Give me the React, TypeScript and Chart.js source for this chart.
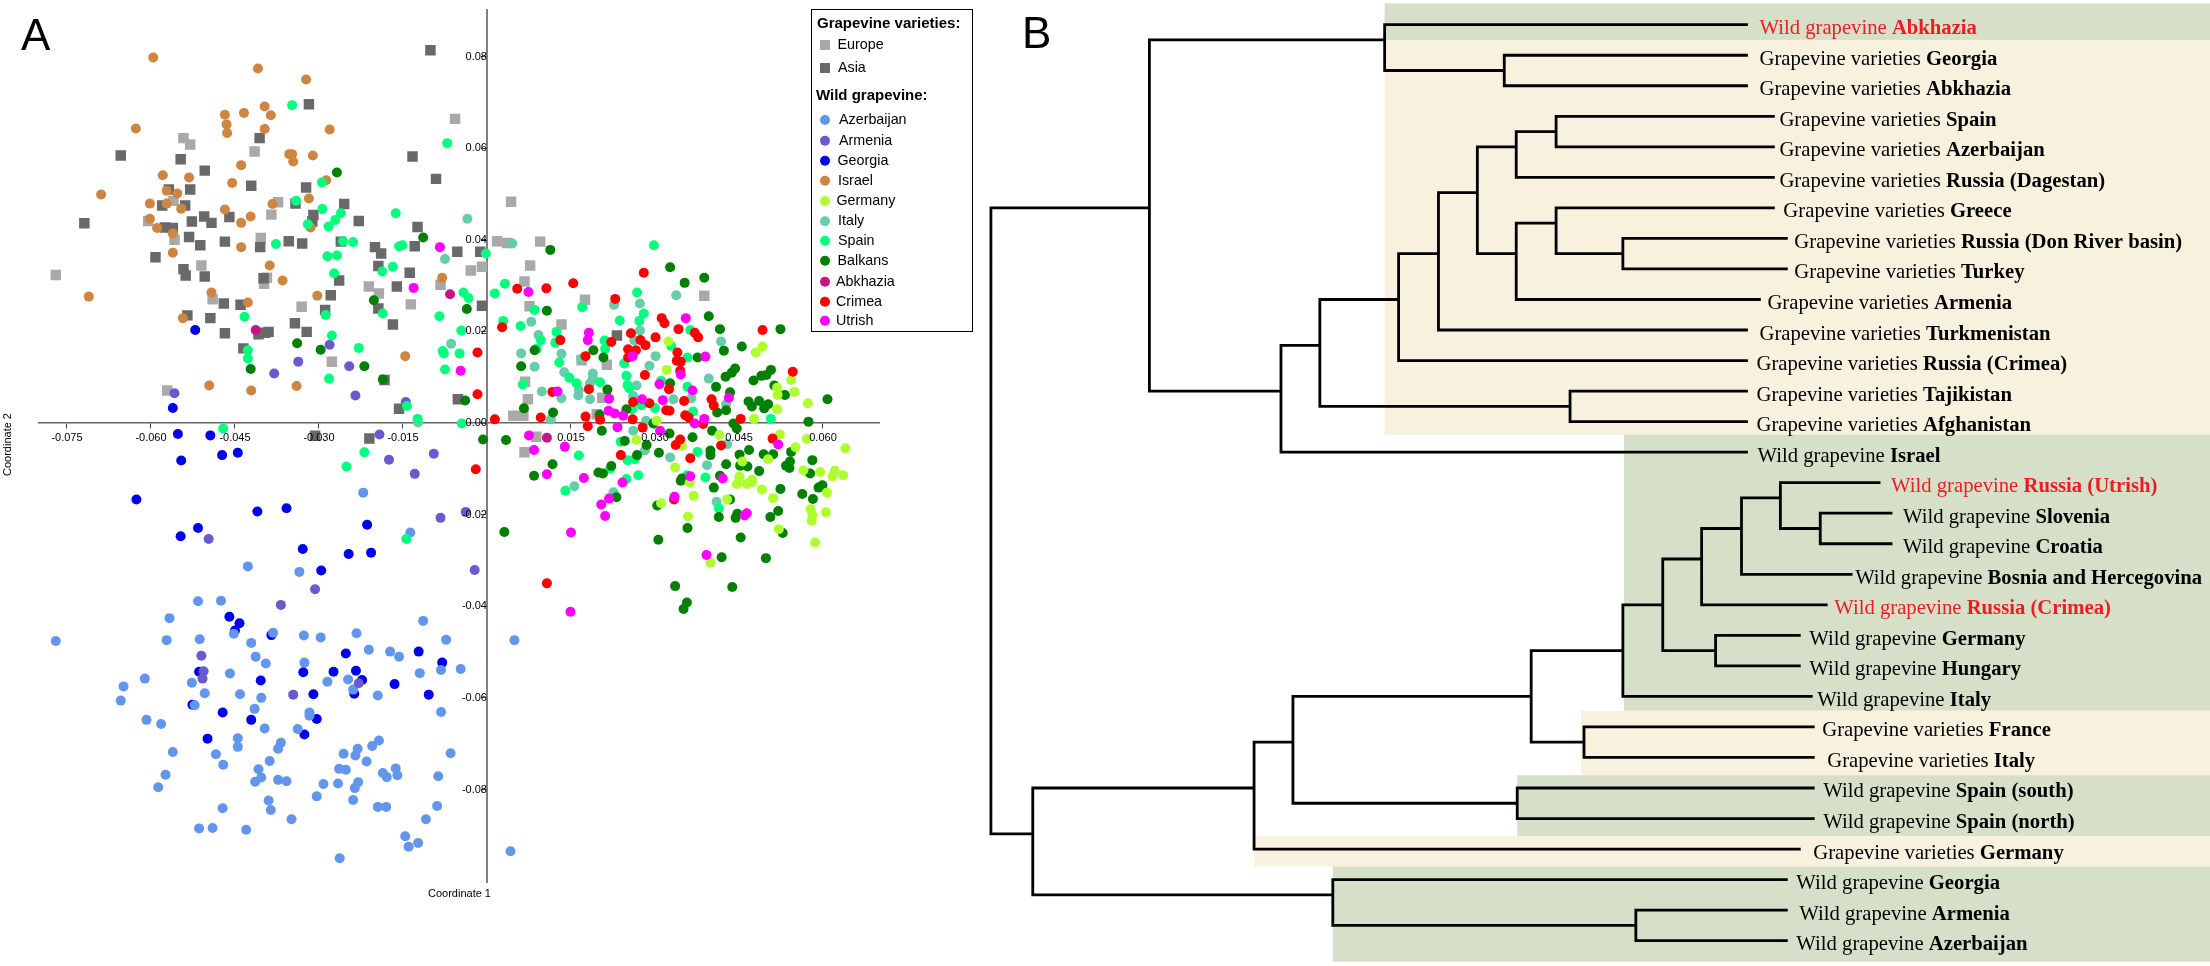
import React, { useEffect, useRef } from "react";
import { Chart, registerables } from "chart.js";

Chart.register(...registerables);

type P = number[];

// Panel A: PCoA coordinates, in thousandths
const xTicks = [-75, -60, -45, -30, -15, 15, 30, 45, 60];
const yTicks = [80, 60, 40, 20, 0, -20, -40, -60, -80];

const europe: P[] = [[-5.7,66.4],[-54.2,62.2],[-53.0,60.8],[-41.5,59.3],[-56.0,48.5],[-37.3,48.2],[-38.5,45.5],[-60.5,44.1],[-40.4,40.4],[-55.8,40.0],[-51.0,34.4],[-39.3,31.7],[-39.8,30.4],[-21.1,29.8],[-19.3,28.3],[-8.3,30.2],[-49.0,27.0],[-33.1,25.4],[-13.6,25.9],[-27.7,13.4],[-57.1,7.1],[-77.0,32.3],[-2.9,33.3],[-0.9,34.1],[4.3,48.3],[1.8,39.7],[3.6,39.3],[9.5,39.6],[7.7,34.4],[6.7,30.9],[17.5,26.9],[7.6,25.5],[13.3,21.5],[38.8,27.8],[16.9,13.7],[21.4,12.7],[6.8,9.0],[7.3,5.2],[20.6,5.5],[4.7,1.6],[6.5,1.6],[19.6,1.9],[8.8,-3.0],[6.7,-6.4]];
const asia: P[] = [[-10.1,81.4],[-31.8,69.6],[-40.6,62.2],[-13.3,58.2],[-65.4,58.4],[-54.7,57.6],[-50.4,55.1],[-9.1,53.3],[-56.8,51.0],[-53.0,51.0],[-42.1,51.8],[-32.3,51.4],[-58.0,47.5],[-53.9,47.5],[-34.2,47.9],[-25.5,47.8],[-71.9,43.6],[-50.5,45.1],[-52.7,44.0],[-49.2,43.7],[-46.0,45.0],[-31.0,45.4],[-31.2,44.0],[-22.9,44.1],[-12.4,42.8],[-57.5,42.7],[-56.1,42.6],[-53.2,40.6],[-51.2,38.8],[-46.8,39.6],[-40.5,38.4],[-35.4,39.7],[-33.0,39.2],[-26.1,39.6],[-20.0,38.4],[-18.9,37.0],[-12.9,38.6],[-5.3,37.4],[-1.2,37.4],[-59.2,36.2],[-54.2,33.6],[-53.8,32.2],[-50.4,32.0],[-19.4,34.3],[-13.8,32.8],[-39.9,31.6],[-26.4,31.1],[-16.1,29.8],[-47.0,26.1],[-44.0,25.8],[-27.9,27.9],[-19.4,25.0],[-28.9,24.7],[-0.9,25.6],[-53.5,23.5],[-49.4,22.9],[-34.3,21.8],[-16.8,21.5],[-46.8,19.6],[-40.8,19.4],[-39.6,19.7],[-39.0,19.9],[-32.2,19.9],[-43.5,16.3],[-18.3,9.4],[-5.2,5.2],[-15.7,3.1],[-30.7,-2.8],[-21.0,-3.4],[23.2,19.1]];
const azerbaijan: P[] = [[-22.1,-15.2],[-13.7,-23.9],[-42.7,-31.3],[-33.5,-32.5],[-51.6,-38.9],[-47.5,-38.8],[-56.7,-42.6],[-11.4,-43.2],[-45.2,-46.0],[-38.2,-45.8],[-32.7,-46.4],[-29.7,-46.8],[-23.3,-45.9],[-77.0,-47.6],[-57.2,-47.4],[-51.3,-47.2],[-42.1,-48.0],[-7.3,-47.3],[-21.1,-49.5],[-17.3,-49.9],[-15.7,-51.0],[-41.3,-51.0],[-39.5,-52.5],[-32.6,-52.3],[-12.0,-54.6],[-8.2,-53.9],[-4.7,-53.7],[-45.9,-54.7],[-61.1,-55.8],[-64.9,-57.5],[-52.7,-56.7],[-28.5,-56.5],[-24.8,-56.0],[-23.9,-58.2],[-50.4,-59.0],[-44.1,-59.2],[-40.3,-60.0],[-19.5,-59.5],[-65.4,-60.6],[-52.2,-61.6],[-41.5,-62.4],[-8.2,-63.1],[-31.7,-63.2],[-31.7,-63.9],[-60.8,-64.8],[-58.2,-65.7],[-39.7,-66.7],[-33.8,-66.8],[-44.5,-68.8],[-44.5,-70.7],[-36.8,-69.8],[-37.3,-71.1],[-19.3,-69.3],[-20.5,-70.5],[-23.1,-71.1],[-23.5,-72.6],[-25.6,-72.2],[-56.1,-71.8],[-48.4,-72.3],[-6.5,-72.1],[-47.1,-74.6],[-38.8,-73.8],[-21.5,-73.9],[-40.8,-75.6],[-26.4,-75.5],[-25.2,-75.7],[-16.3,-75.4],[-18.6,-76.4],[-17.9,-77.3],[-16.0,-76.9],[-8.7,-77.1],[-57.4,-76.8],[-40.3,-77.4],[-41.4,-78.3],[-37.3,-77.9],[-35.8,-78.2],[-29.2,-78.8],[-26.6,-78.7],[-23.0,-78.4],[-23.6,-79.7],[-58.7,-79.5],[-30.4,-81.5],[-23.9,-82.3],[-39.0,-82.4],[-38.6,-84.5],[-47.2,-84.1],[-19.5,-83.8],[-18.0,-83.8],[-8.9,-83.6],[-34.9,-86.5],[-10.9,-86.5],[-51.4,-88.5],[-49.0,-88.4],[-43.0,-88.8],[-14.6,-90.2],[-12.3,-91.7],[-14.0,-92.5],[-26.3,-95.0],[4.9,-47.4],[4.2,-93.5]];
const armenia: P[] = [[-55.8,6.5],[-28.1,17.1],[-33.7,13.4],[-38.0,10.8],[-24.6,12.4],[-23.5,6.0],[-14.5,4.6],[-19.2,-2.5],[-9.5,-6.7],[-17.5,-8.0],[-12.9,-11.1],[-3.8,-19.4],[-8.3,-20.7],[-49.7,-25.3],[-2.2,-32.1],[-30.7,-36.3],[-36.8,-39.7],[-51.0,-50.8],[-50.6,-54.2],[-50.8,-55.8],[-34.6,-59.3],[-22.9,-56.8]];
const georgia: P[] = [[-52.1,20.3],[-56.1,3.3],[-55.2,-2.4],[-49.4,-2.7],[-54.6,-8.2],[-47.3,-7.0],[-44.5,-6.5],[-62.6,-16.7],[-41.0,-19.3],[-35.8,-18.6],[-51.6,-22.9],[-54.7,-24.7],[-21.4,-22.2],[-32.9,-27.5],[-24.7,-28.6],[-20.7,-28.3],[-29.6,-32.2],[-46.0,-42.3],[-44.2,-43.7],[-45.0,-45.3],[-38.5,-46.3],[-25.2,-50.3],[-12.2,-49.9],[-8.0,-52.3],[-51.4,-54.3],[-40.4,-56.2],[-32.8,-54.4],[-27.4,-54.3],[-23.4,-54.1],[-22.3,-56.1],[-16.5,-57.0],[-31.0,-59.2],[-23.7,-59.1],[-10.4,-59.3],[-52.6,-61.5],[-47.2,-63.2],[-42.1,-64.8],[-30.4,-64.6],[-49.9,-68.9],[-32.6,-68.0]];
const israel: P[] = [[-59.6,79.8],[-40.9,77.4],[-32.3,75.0],[-62.7,64.3],[-46.8,67.3],[-43.4,67.7],[-39.7,69.1],[-38.6,67.2],[-46.5,65.2],[-46.4,63.3],[-39.7,64.2],[-28.1,64.1],[-35.3,58.7],[-34.8,58.7],[-34.6,57.1],[-31.1,58.4],[-43.9,56.3],[-57.9,54.1],[-53.2,53.6],[-45.5,52.4],[-28.7,53.0],[-68.9,49.9],[-57.2,50.7],[-55.3,50.1],[-60.2,47.9],[-57.2,47.9],[-54.6,46.8],[-38.3,47.8],[-31.8,49.0],[-46.8,46.6],[-42.2,45.1],[-43.9,43.7],[-60.2,44.6],[-58.9,42.6],[-56.1,41.4],[-31.5,42.7],[-43.9,38.4],[-56.1,37.2],[-38.8,34.4],[-36.5,31.1],[-8.0,31.7],[-71.1,27.6],[-49.2,28.5],[-30.3,27.8],[-42.7,26.3],[-54.3,22.9],[-14.6,14.6],[-49.6,8.2],[-42.1,7.1],[-34.0,8.1]];
const germany: P[] = [[32.4,17.8],[49.2,16.7],[48.0,15.4],[32.1,11.6],[54.3,9.4],[51.8,7.7],[54.9,6.8],[51.9,6.1],[57.3,4.3],[51.8,3.0],[30.3,0.5],[47.7,0.9],[41.5,-2.6],[52.3,-2.5],[57.1,-3.5],[26.7,-3.7],[34.8,-5.0],[55.1,-5.3],[64.0,-5.5],[50.2,-7.9],[45.6,-8.4],[33.6,-9.7],[56.5,-10.3],[59.5,-10.7],[62.1,-10.4],[61.7,-11.6],[63.6,-11.4],[45.1,-11.7],[47.3,-12.4],[36.2,-13.0],[44.6,-13.3],[46.4,-13.3],[47.3,-13.0],[49.1,-14.5],[51.1,-16.4],[36.9,-15.9],[31.1,-17.5],[42.9,-16.7],[35.9,-20.4],[60.7,-15.2],[60.5,-19.5],[57.8,-18.8],[58.1,-20.1],[58.0,-21.3],[52.1,-23.2],[58.6,-26.1],[39.9,-30.5]];
const italy: P[] = [[-3.5,44.6],[-7.5,35.8],[-6.4,17.3],[-12.3,0.1],[4.5,39.2],[33.8,27.9],[22.7,25.8],[27.3,26.1],[7.9,22.1],[27.3,20.2],[9.2,19.2],[26.3,18.0],[41.8,17.8],[6.1,15.2],[13.3,15.1],[30.1,14.6],[16.8,14.0],[8.5,12.3],[29.0,12.5],[13.8,11.1],[18.9,10.8],[18.9,9.8],[39.6,9.7],[26.7,8.2],[18.4,8.7],[16.4,7.2],[16.3,6.0],[9.8,6.9],[13.3,5.4],[18.4,5.2],[26.1,5.9],[33.3,5.2],[36.5,5.4],[11.4,0.8],[28.4,0.5],[42.7,4.1],[26.1,-1.7],[42.9,-4.6],[28.2,-6.0],[32.7,-7.5],[39.3,-9.2],[15.6,-13.8],[22.6,-15.1],[41.0,-17.2]];
const spain: P[] = [[-34.8,69.4],[-7.1,61.1],[-29.5,52.5],[-34.1,48.5],[-29.4,46.7],[-26.1,45.8],[-27.1,44.3],[-28.3,42.9],[-32.0,43.4],[-16.3,45.8],[-25.7,39.7],[-23.9,39.5],[-15.7,38.6],[-15.1,38.8],[-37.7,39.1],[-28.5,36.4],[-26.8,36.6],[-27.3,32.7],[-18.7,33.1],[-16.8,34.1],[-0.2,37.0],[-4.2,28.5],[-3.3,27.3],[1.4,28.3],[-43.3,23.2],[-28.8,23.6],[-18.6,23.9],[-8.5,23.3],[-27.7,19.1],[-4.6,20.2],[-42.7,15.9],[-42.7,14.1],[-22.9,16.4],[-7.9,15.7],[-7.7,15.2],[-4.9,15.2],[-7.5,11.7],[-28.2,9.7],[-14.3,3.7],[-12.4,0.9],[-47.1,-1.2],[-21.9,-6.4],[-25.1,-9.5],[-4.5,-0.1],[-14.4,-25.3],[29.8,38.8],[3.2,30.4],[26.8,28.5],[17.0,25.3],[8.5,24.7],[28.0,23.9],[27.2,22.3],[23.7,22.4],[2.9,22.3],[6.0,21.2],[12.4,19.9],[36.3,20.3],[9.6,18.1],[12.2,17.5],[8.9,16.2],[21.0,18.0],[21.1,16.2],[12.9,13.2],[24.5,13.0],[32.9,16.8],[35.8,14.3],[14.7,9.9],[16.0,8.7],[20.2,8.9],[6.4,8.4],[24.9,10.3],[25.1,8.3],[25.4,7.6],[31.1,9.2],[35.8,7.9],[27.6,3.9],[30.0,3.3],[25.9,3.0],[36.8,2.5],[50.7,0.9],[23.9,-4.1],[16.4,-7.1],[37.6,-6.3],[25.1,-8.1],[26.4,-7.9],[22.0,-10.0],[27.0,-11.4],[35.7,-11.4],[39.0,-11.9],[24.9,-12.2],[14.0,-14.8],[41.4,-18.6]];
const balkans: P[] = [[-26.8,54.7],[-11.4,40.5],[-20.2,26.8],[-3.6,24.9],[-33.9,17.4],[-29.7,16.0],[-21.9,12.4],[-42.2,11.8],[-18.6,9.5],[-3.9,4.9],[-0.7,-3.6],[11.3,37.8],[32.7,34.0],[38.8,31.7],[35.3,30.6],[10.7,24.5],[39.6,23.3],[41.6,20.5],[52.4,20.5],[45.5,16.7],[42.3,15.8],[19.0,15.9],[8.5,15.9],[20.8,14.3],[37.6,14.3],[6.1,12.4],[44.3,11.9],[43.7,11.0],[42.6,10.1],[50.7,11.6],[49.9,10.5],[49.0,10.3],[47.6,9.3],[40.9,7.9],[51.3,8.2],[21.5,7.3],[32.7,8.7],[43.4,6.7],[53.2,6.1],[60.8,5.2],[46.7,4.7],[48.6,4.8],[47.3,3.6],[50.2,4.1],[49.5,3.2],[6.6,3.2],[11.8,2.3],[24.9,3.0],[42.7,2.8],[41.1,2.3],[20.1,1.8],[57.4,0.3],[44.0,-0.1],[44.6,-1.2],[29.7,-0.1],[32.6,-2.3],[20.5,-1.7],[40.2,-1.7],[36.7,-3.1],[3.4,-3.7],[24.6,-3.9],[28.5,-4.8],[30.7,-6.5],[26.8,-7.0],[39.9,-6.0],[39.9,-7.0],[46.8,-5.9],[45.1,-6.9],[49.4,-6.8],[51.1,-6.8],[54.3,-6.3],[11.7,-9.0],[22.2,-9.4],[42.7,-9.0],[45.2,-9.3],[46.5,-9.5],[54.1,-8.4],[53.4,-9.3],[54.0,-9.8],[58.1,-8.1],[48.6,-10.5],[8.4,-11.5],[19.9,-10.8],[20.7,-11.0],[41.6,-11.5],[57.7,-11.0],[34.8,-12.1],[34.6,-12.6],[40.5,-14.1],[52.4,-14.4],[56.3,-15.5],[59.2,-14.1],[59.9,-13.6],[58.2,-16.6],[30.4,-18.0],[23.1,-16.2],[43.4,-16.7],[52.0,-19.2],[50.6,-20.5],[44.7,-19.8],[44.4,-20.7],[41.4,-20.5],[3.1,-23.8],[35.8,-22.9],[30.6,-25.5],[45.3,-25.0],[52.8,-24.0],[41.9,-29.3],[49.8,-29.5],[33.6,-35.6],[43.8,-35.8],[35.7,-39.2],[35.1,-40.6]];
const abkhazia: P[] = [[-41.3,20.3],[-6.6,28.1],[10.7,-3.2]];
const crimea: P[] = [[-1.7,15.4],[-1.7,6.3],[1.4,0.8],[-2.0,-10.1],[28.0,32.8],[15.4,30.5],[5.4,29.3],[10.6,29.4],[22.9,27.1],[31.2,22.9],[31.7,21.8],[2.7,20.9],[34.2,20.5],[49.2,20.3],[37.1,19.7],[37.7,18.7],[25.7,19.6],[30.1,18.7],[27.4,18.1],[13.1,18.1],[22.2,17.7],[28.3,17.0],[25.2,16.1],[26.6,15.9],[34.0,15.4],[25.2,14.3],[17.6,14.6],[33.9,13.6],[34.6,13.4],[54.6,11.2],[34.5,11.4],[28.2,10.5],[18.2,7.4],[32.5,7.4],[11.7,6.8],[40.1,5.2],[26.1,4.6],[29.0,4.3],[35.2,4.8],[40.5,3.8],[32.0,2.8],[32.6,2.7],[35.4,1.7],[36.0,1.2],[9.6,1.2],[17.6,1.4],[20.2,0.7],[26.0,0.8],[45.3,0.9],[38.6,-0.2],[18.0,-0.7],[27.8,-1.0],[51.0,-3.4],[34.5,-3.6],[33.7,-4.8],[41.8,-4.9],[23.9,-7.0],[36.3,-7.7],[33.4,-16.7],[10.7,-35.0]];
const utrish: P[] = [[-8.4,38.4],[-13.1,29.5],[-4.7,11.4],[7.4,28.6],[35.5,22.9],[18.2,19.7],[18.0,18.1],[26.0,14.6],[39.0,14.5],[34.6,10.6],[30.8,8.5],[36.7,7.1],[12.6,6.9],[21.8,5.3],[27.7,5.2],[31.4,5.0],[43.2,5.5],[21.7,2.7],[22.8,2.1],[24.3,1.6],[38.8,0.9],[37.1,-0.1],[23.3,-0.9],[30.9,-1.7],[7.5,-2.7],[52.0,-4.7],[8.4,-5.9],[13.9,-5.2],[10.7,-11.2],[17.3,-12.0],[36.3,-11.6],[42.1,-12.1],[24.2,-13.0],[21.8,-16.5],[20.4,-17.8],[21.1,-20.3],[33.5,-16.1],[15.0,-23.9],[46.4,-19.7],[46.0,-20.2],[39.2,-28.8],[14.9,-41.2]];

const varietyNames = ["Europe", "Asia"];
const varietyColors = ["#A9A9A9", "#696969"];
const wildNames = ["Azerbaijan", "Armenia", "Georgia", "Israel", "Germany", "Italy", "Spain", "Balkans", "Abkhazia", "Crimea", "Utrish"];
const wildColors = ["#6495ED", "#6A5ACD", "#0000EE", "#CD853F", "#ADFF2F", "#66CDAA", "#00FF7F", "#008000", "#C71585", "#FF0000", "#FF00FF"];
const wildData = [azerbaijan, armenia, georgia, israel, germany, italy, spain, balkans, abkhazia, crimea, utrish];
// bottom-to-top drawing order of the wild groups (index into wildNames)
const wildStack = [2, 0, 1, 3, 5, 6, 7, 4, 8, 9, 10];

// Panel B: dendrogram
const prefixVar = "Grapevine varieties ";
const prefixWild = "Wild grapevine ";
const leafPrefix = [prefixWild, prefixVar, prefixVar, prefixVar, prefixVar, prefixVar, prefixVar, prefixVar, prefixVar, prefixVar, prefixVar, prefixVar, prefixVar, prefixVar, prefixWild, prefixWild, prefixWild, prefixWild, prefixWild, prefixWild, prefixWild, prefixWild, prefixWild, prefixVar, prefixVar, prefixWild, prefixWild, prefixVar, prefixWild, prefixWild, prefixWild];
const leafName = ["Abkhazia", "Georgia", "Abkhazia", "Spain", "Azerbaijan", "Russia (Dagestan)", "Greece", "Russia (Don River basin)", "Turkey", "Armenia", "Turkmenistan", "Russia (Crimea)", "Tajikistan", "Afghanistan", "Israel", "Russia (Utrish)", "Slovenia", "Croatia", "Bosnia and Hercegovina", "Russia (Crimea)", "Germany", "Hungary", "Italy", "France", "Italy", "Spain (south)", "Spain (north)", "Germany", "Georgia", "Armenia", "Azerbaijan"];
const leafRed = [0, 15, 19];
const leafLabelAt = [802, 802, 802, 822, 822, 822, 826, 837, 837, 810, 802, 799, 799, 799, 800, 934, 946, 946, 898, 877, 852, 852, 860, 865, 870, 866, 866, 856, 839, 842, 839];

// [distance, top row, bottom row]
const splits: P[] = [[31,6,26.5],[190,0.5,12],[426,0,1.5],[546,1,2],[322,10.5,14],[361,9,12.5],[612,12,13],[440,7.5,11],[480,5.5,10],[519,4,7.5],[558,3.5,5],[598,3,4],[558,6.5,9],[598,6,7.5],[665,7,8],[73,25,28.5],[374,28,29.5],[678,29,30],[295,23.5,27],[334,22,25.5],[559,25,26],[573,20.5,23.5],[626,23,24],[665,19,22],[705,17.5,20.5],[758,20,21],[744,16.5,19],[784,15.5,18],[823,15,16.5],[863,16,17]];
// [row, from distance, to distance]
const branches: P[] = [[6,31,190],[0.5,190,426],[0,426,789],[1.5,426,546],[1,546,789],[2,546,789],[12,190,322],[14,322,789],[10.5,322,361],[12.5,361,612],[12,612,789],[13,612,789],[9,361,440],[11,440,789],[7.5,440,480],[10,480,789],[5.5,480,519],[4,519,558],[5,558,816],[3.5,558,598],[3,598,816],[4,598,816],[7.5,519,558],[9,558,802],[6.5,558,598],[6,598,816],[7.5,598,665],[7,665,829],[8,665,829],[26.5,31,73],[28.5,73,374],[28,374,829],[29.5,374,678],[29,678,829],[30,678,829],[25,73,295],[27,295,842],[23.5,295,334],[25.5,334,559],[25,559,856],[26,559,856],[22,334,573],[23.5,573,626],[23,626,856],[24,626,856],[20.5,573,665],[22,665,854],[19,665,705],[20.5,705,758],[20,758,842],[21,758,842],[17.5,705,744],[19,744,869],[16.5,744,784],[18,784,894],[15.5,784,823],[15,823,922],[16.5,823,863],[16,863,934],[17,863,934]];

// shaded groups: start distance, top row, bottom row, kind
const bandFrom = [426, 426, 666, 623, 559, 295, 374];
const bandTop = [-0.7, 0.5, 13.43, 22.47, 24.58, 26.57, 27.57];
const bandBottom = [0.5, 13.43, 22.47, 24.58, 26.57, 27.57, 30.69];
const bandWild = [true, false, true, false, true, false, true];

const SANS = '"Liberation Sans", Arial, sans-serif';
const SERIF = '"Liberation Serif", "Times New Roman", serif';
const GREEN_BAND = "#D6E0C9";
const BEIGE_BAND = "#F7F1DE";

const toPoints = (rows: P[]) => rows.map(([x, y]) => ({ x: x / 1000, y: y / 1000 }));

const scatterSet = (label: string, rows: P[], color: string, order: number, square: boolean) => ({
  label,
  data: toPoints(rows),
  backgroundColor: color,
  borderWidth: 0,
  pointStyle: square ? "rect" : "circle",
  pointRadius: square ? 7.4 : 5,
  pointHoverRadius: square ? 7.4 : 5,
  order,
});

const panelAOverlay = {
  id: "panelAOverlay",
  afterDraw(chart: any) {
    const { ctx } = chart;
    ctx.save();
    ctx.fillStyle = "#000";
    ctx.textBaseline = "alphabetic";
    ctx.textAlign = "left";
    ctx.font = `44px ${SANS}`;
    ctx.fillText("A", 21, 50);

    ctx.font = `11px ${SANS}`;
    ctx.fillText("Coordinate 1", 428, 897);
    ctx.save();
    ctx.translate(11, 476);
    ctx.rotate(-Math.PI / 2);
    ctx.fillText("Coordinate 2", 0, 0);
    ctx.restore();

    ctx.strokeStyle = "#000";
    ctx.lineWidth = 1;
    ctx.strokeRect(811.5, 9.5, 161, 322);

    ctx.textBaseline = "middle";
    ctx.font = `bold 15px ${SANS}`;
    ctx.fillText("Grapevine varieties:", 817, 24);
    ctx.fillText("Wild grapevine:", 816, 96);

    ctx.font = `14.3px ${SANS}`;
    const varietyY = [45, 68];
    const varietyTextX = [837.5, 838];
    varietyNames.forEach((name, i) => {
      ctx.fillStyle = varietyColors[i];
      ctx.fillRect(820, varietyY[i] - 5, 10, 10);
      ctx.fillStyle = "#000";
      ctx.fillText(name, varietyTextX[i], varietyY[i]);
    });
    const wildY = [120, 140.7, 160.7, 180.7, 201, 221.3, 240.7, 260.7, 281.7, 301.7, 320.7];
    const wildTextX = [839, 839, 837.5, 838, 836.5, 838, 838, 837.5, 836, 836, 836];
    wildNames.forEach((name, i) => {
      ctx.fillStyle = wildColors[i];
      ctx.beginPath();
      ctx.arc(825, wildY[i], 5, 0, Math.PI * 2);
      ctx.fill();
      ctx.fillStyle = "#000";
      ctx.fillText(name, wildTextX[i], wildY[i]);
    });
    ctx.restore();
  },
};

const panelBBands = {
  id: "panelBBands",
  beforeDatasetsDraw(chart: any) {
    const { ctx, scales } = chart;
    ctx.save();
    bandFrom.forEach((from, i) => {
      const left = scales.x.getPixelForValue(from);
      const top = scales.y.getPixelForValue(bandTop[i]);
      const bottom = scales.y.getPixelForValue(bandBottom[i]);
      ctx.fillStyle = bandWild[i] ? GREEN_BAND : BEIGE_BAND;
      ctx.fillRect(left, top, chart.width - left, bottom - top);
    });
    ctx.restore();
  },
};

const panelBLabels = {
  id: "panelBLabels",
  afterDatasetsDraw(chart: any) {
    const { ctx, scales } = chart;
    ctx.save();
    ctx.textAlign = "left";
    ctx.textBaseline = "alphabetic";
    ctx.fillStyle = "#000";
    ctx.font = `44px ${SANS}`;
    ctx.fillText("B", 42, 48);
    leafName.forEach((name, i) => {
      const x = scales.x.getPixelForValue(leafLabelAt[i]);
      const y = scales.y.getPixelForValue(i) + 9.5;
      ctx.fillStyle = leafRed.includes(i) ? "#ED1C24" : "#000";
      ctx.font = `20.7px ${SERIF}`;
      ctx.fillText(leafPrefix[i], x, y);
      const w = ctx.measureText(leafPrefix[i]).width;
      ctx.font = `bold 20.7px ${SERIF}`;
      ctx.fillText(name, x + w, y);
    });
    ctx.restore();
  },
};

const treePath = () => {
  const path: { x: number; y: number }[] = [];
  const gap = { x: NaN, y: NaN };
  splits.forEach(([d, a, b]) => path.push({ x: d, y: a }, { x: d, y: b }, gap));
  branches.forEach(([r, a, b]) => path.push({ x: a, y: r }, { x: b, y: r }, gap));
  return path;
};

export default function App() {
  const refA = useRef<HTMLCanvasElement>(null);
  const refB = useRef<HTMLCanvasElement>(null);

  useEffect(() => {
    const layers = [
      { label: "Europe", rows: europe, color: varietyColors[0], square: true },
      { label: "Asia", rows: asia, color: varietyColors[1], square: true },
      ...wildStack.map((i) => ({ label: wildNames[i], rows: wildData[i], color: wildColors[i], square: false })),
    ];
    const a = new Chart(refA.current as HTMLCanvasElement, {
      type: "scatter",
      data: {
        datasets: layers.map((l, i) => scatterSet(l.label, l.rows, l.color, layers.length - i, l.square)) as any,
      },
      options: {
        animation: false,
        responsive: false,
        devicePixelRatio: 1,
        layout: { padding: { left: 38.7, top: 10, right: 101, bottom: 84 } },
        plugins: { legend: { display: false }, tooltip: { enabled: false } },
        scales: {
          x: {
            type: "linear",
            position: { y: 0 } as any,
            min: -0.08005,
            max: 0.07,
            afterBuildTicks: (s: any) => { s.ticks = xTicks.map((v) => ({ value: v / 1000 })); },
            grid: { drawOnChartArea: false, drawTicks: true, tickLength: 5, tickColor: "#444", tickWidth: 1 },
            border: { display: true, color: "#666", width: 1.5 },
            ticks: {
              z: 1, autoSkip: false, maxRotation: 0, padding: 3, color: "#000",
              font: { family: SANS, size: 11 },
              callback: (v: any) => Number(v).toFixed(3),
            },
          },
          y: {
            type: "linear",
            position: { x: 0 } as any,
            min: -0.1002,
            max: 0.09017,
            afterBuildTicks: (s: any) => { s.ticks = yTicks.map((v) => ({ value: v / 1000 })); },
            grid: { drawOnChartArea: false, drawTicks: true, tickLength: 5, tickColor: "#444", tickWidth: 1 },
            border: { display: true, color: "#808080", width: 2 },
            ticks: {
              z: 1, autoSkip: false, padding: 3, color: "#000",
              font: { family: SANS, size: 11 },
              callback: (v: any) => Number(v).toFixed(2),
            },
          },
        },
      },
      plugins: [panelAOverlay],
    } as any);

    const b = new Chart(refB.current as HTMLCanvasElement, {
      type: "scatter",
      data: {
        datasets: [
          {
            label: "tree",
            data: treePath(),
            showLine: true,
            spanGaps: false,
            borderColor: "#000",
            borderWidth: 2.8,
            borderCapStyle: "square",
            pointRadius: 0,
            pointHoverRadius: 0,
            clip: false,
          },
        ] as any,
      },
      options: {
        animation: false,
        responsive: false,
        devicePixelRatio: 1,
        layout: { padding: 0 },
        plugins: { legend: { display: false }, tooltip: { enabled: false } },
        scales: {
          x: { type: "linear", display: false, min: 20.06, max: 1254 },
          y: { type: "linear", display: false, reverse: true, min: -0.809, max: 30.83 },
        },
      },
      plugins: [panelBBands, panelBLabels],
    } as any);

    return () => {
      a.destroy();
      b.destroy();
    };
  }, []);

  return (
    <div style={{ position: "fixed", inset: 0, background: "#fff", overflow: "hidden" }}>
      <canvas ref={refA} width={980} height={966} style={{ position: "absolute", left: 0, top: 0, width: 980, height: 966 }} />
      <canvas ref={refB} width={1230} height={966} style={{ position: "absolute", left: 980, top: 0, width: 1230, height: 966 }} />
    </div>
  );
}
